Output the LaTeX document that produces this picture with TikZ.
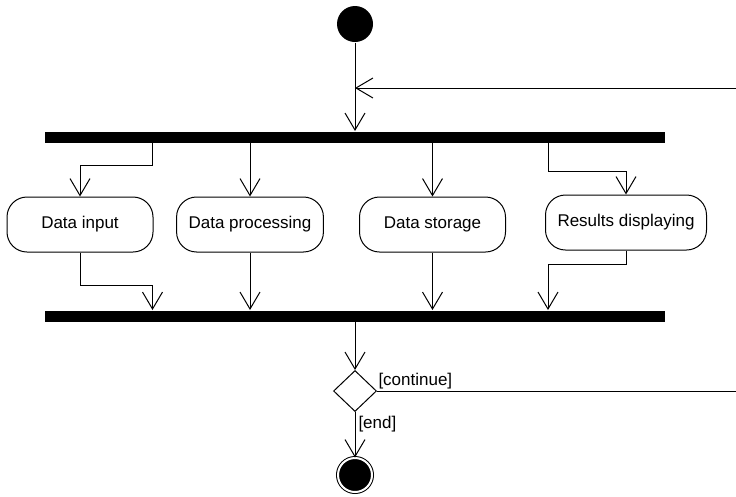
\documentclass[tikz,border=0pt]{standalone}
\usepackage{fontspec}
\setmainfont{Liberation Sans}
\usetikzlibrary{arrows.meta,shapes.geometric}
\begin{document}
\begin{tikzpicture}[x=1pt, y=-1pt, line width=1pt,
    font=\fontsize{17}{20}\selectfont,
    flow/.style={-{Straight Barb[length=17pt,width=20pt]}},
    action/.style={rectangle, draw, rounded corners=20pt, minimum width=146pt, minimum height=55pt, inner xsep=12pt},
    bar/.style={rectangle, fill=black, minimum width=620pt, minimum height=11pt, inner sep=0pt},
    initial/.style={circle, fill=black, minimum size=36pt, inner sep=0pt},
    final/.style={circle, draw, fill=black, double, double distance=2pt, minimum size=34pt, inner sep=0pt},
    decision/.style={diamond, draw, minimum width=43pt, minimum height=41pt, inner sep=0pt}]
    \useasboundingbox (0,0) rectangle (736,496);

    \node[initial] (start) at (355,24) {};
    \coordinate (merge) at (355,88);
    \node[bar] (fork) at (355,137) {};

    \node[action] (input) at (80,224.5) {Data input};
    \node[action] (processing) at (250,224.5) {Data processing};
    \node[action] (storage) at (432.5,224.5) {Data storage};
    \node[action] (display) at (626,222.5) {Results displaying};
    \coordinate (tapl) at ([xshift=-1pt]input.east);
    \coordinate (tapr) at ([xshift=3pt]display.west);

    \node[bar] (join) at (355,316) {};
    \node[decision] (decision) at (355,391) {};
    \node[final] (final) at (355,475) {};

    \draw[flow] (start) -- (fork.north);
    \draw[flow] (fork.south -| tapl) -- ++(0,22) -| (input.north);
    \draw[flow] (fork.south -| processing) -- (processing.north);
    \draw[flow] (fork.south -| storage) -- (storage.north);
    \draw[flow] (fork.south -| tapr) -- ++(0,28) -| (display.north);

    \draw[flow] (input.south) -- ++(0,33) -| (join.north -| tapl);
    \draw[flow] (processing) -- (processing |- join.north);
    \draw[flow] (storage) -- (storage |- join.north);
    \draw[flow] (display.south) -- ++(0,14) -| (join.north -| tapr);

    \draw[flow] (join) -- (decision);
    \draw[flow] (decision.south) node[anchor=north west, inner sep=1pt, xshift=2pt, yshift=-3pt] {[end]} -- (final);
    \draw[flow] (decision.east) node[anchor=south west, inner sep=1pt] {[continue]} -- ++(420,0) |- (merge);
\end{tikzpicture}
\end{document}
